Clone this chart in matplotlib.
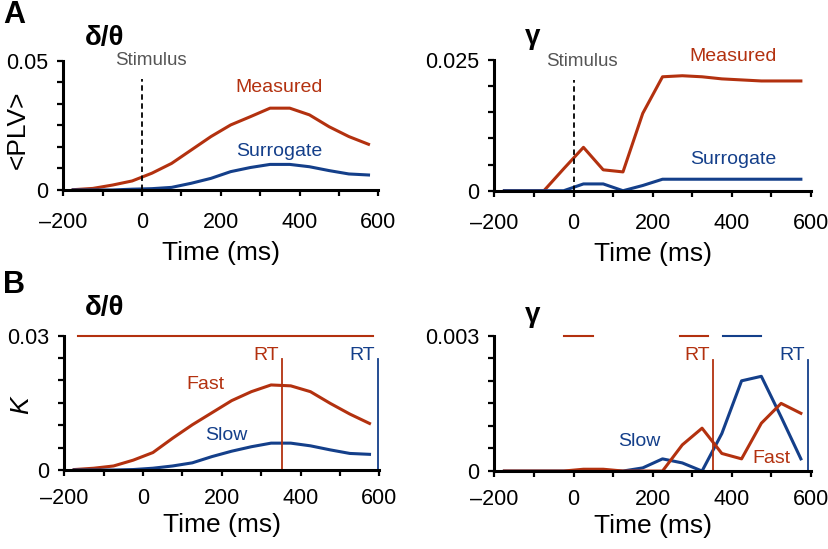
import numpy as np
import matplotlib
matplotlib.use("Agg")
import matplotlib.pyplot as plt

plt.rcParams['font.family'] = ['Liberation Sans', 'DejaVu Sans']

RED = '#b3310f'
BLUE = '#143f8a'

# bin centres (ms)
t = [-175, -125, -75, -25, 25, 75, 125, 175, 225, 275, 325, 375, 425, 475, 525, 575]

# A: phase locking value, delta/theta
a1_measured = [0.0001, 0.0006, 0.0019, 0.0035, 0.0065, 0.0103, 0.0155, 0.0207,
               0.0252, 0.0284, 0.0317, 0.0317, 0.0291, 0.0245, 0.0207, 0.0177]
a1_surrogate = [0, 0, 0, 0.0003, 0.0005, 0.001, 0.0026, 0.0045,
                0.0071, 0.0087, 0.0099, 0.0099, 0.009, 0.0075, 0.0062, 0.0058]
# A: gamma
a2_measured = [0, 0, 0, 0.0042, 0.0083, 0.004, 0.0036, 0.0148,
               0.0218, 0.022, 0.0218, 0.0214, 0.0212, 0.021, 0.021, 0.021]
a2_surrogate = [0, 0, 0, 0, 0.0013, 0.0013, 0, 0.001,
                0.0022, 0.0022, 0.0022, 0.0022, 0.0022, 0.0022, 0.0022, 0.0022]

# B: kappa, delta/theta
b1_fast = [0.0001, 0.0004, 0.0009, 0.0022, 0.0039, 0.0071, 0.0101, 0.0128,
           0.0155, 0.0175, 0.019, 0.0188, 0.0175, 0.0149, 0.0125, 0.0104]
b1_slow = [0, 0, 0, 0.0001, 0.0004, 0.0009, 0.0016, 0.003,
           0.0042, 0.0052, 0.006, 0.006, 0.0054, 0.0045, 0.0037, 0.0035]
# B: gamma
b2_fast = [0, 0, 0, 0, 0.00004, 0.00004, 0, 0,
           0, 0.00058, 0.00095, 0.00039, 0.00027, 0.00106, 0.0015, 0.00128]
b2_slow = [0, 0, 0, 0, 0, 0, 0, 0.00007,
           0.00027, 0.00018, 0, 0.00083, 0.002, 0.0021, 0.0012, 0.00027]

rt_fast = [354, 352]
rt_slow = [596, 593]
# significance bars (start, end, colour)
b1_bars = [(-165, 583, RED)]
b2_bars = [(-25, 50, RED), (270, 340, RED), (377, 475, BLUE)]


def style_axis(ax, ytop, nticks, toplabel, xpad, labelpad):
    ax.set_xlim(-200, 600)
    ax.set_ylim(0, ytop)
    ax.spines['top'].set_visible(False)
    ax.spines['right'].set_visible(False)
    ax.spines['left'].set_linewidth(2.2)
    ax.spines['bottom'].set_linewidth(2.2)
    ax.set_xticks(range(-200, 601, 100))
    ax.set_xticklabels(['\u2013200', '', '0', '', '200', '', '400', '', '600'])
    yt = np.linspace(0, ytop, nticks + 1)
    ax.set_yticks(yt)
    ax.set_yticklabels(['0'] + [''] * (nticks - 1) + [toplabel])
    ax.tick_params(direction='out', length=4, width=1.6, labelsize=15.5)
    ax.tick_params(axis='x', pad=xpad)
    ax.tick_params(axis='y', pad=7)
    ax.set_xlabel('Time (ms)', fontsize=19, labelpad=labelpad)
    ax.patch.set_alpha(0)


fig = plt.figure(figsize=(8.29, 5.49), dpi=100)
axA1 = fig.add_axes([0.0764, 0.654, 0.38, 0.235])
axA2 = fig.add_axes([0.5965, 0.6526, 0.3815, 0.238])
axB1 = fig.add_axes([0.0776, 0.1439, 0.38, 0.2446])
axB2 = fig.add_axes([0.5965, 0.142, 0.3815, 0.2465])

# A left
ax = axA1
ax.plot(t, a1_measured, color=RED, lw=2.2)
ax.plot(t, a1_surrogate, color=BLUE, lw=2.2)
ax.plot([0, 0], [0, 0.043], color='black', lw=1.3, ls=(0, (3, 2)))
ax.text(23, 0.05, 'Stimulus', color='#555555', fontsize=13.5, ha='center', va='center')
ax.text(349, 0.0398, 'Measured', color=RED, fontsize=14, ha='center', va='center')
ax.text(349, 0.0149, 'Surrogate', color=BLUE, fontsize=14, ha='center', va='center')
style_axis(ax, 0.05, 6, '0.05', 12, 5.5)
ax.set_ylabel('<PLV>', fontsize=19)
ax.yaxis.set_label_coords(-0.106, 0.47)

# A right
ax = axA2
ax.plot(t, a2_measured, color=RED, lw=2.2)
ax.plot(t, a2_surrogate, color=BLUE, lw=2.2)
ax.plot([0, 0], [0, 0.0212], color='black', lw=1.3, ls=(0, (3, 2)))
ax.text(21, 0.0247, 'Stimulus', color='#555555', fontsize=13.5, ha='center', va='center')
ax.text(404, 0.0256, 'Measured', color=RED, fontsize=14, ha='center', va='center')
ax.text(404, 0.0059, 'Surrogate', color=BLUE, fontsize=14, ha='center', va='center')
style_axis(ax, 0.025, 5, '0.025', 12, 5.5)

# B left
ax = axB1
ax.plot(t, b1_fast, color=RED, lw=2.2)
ax.plot(t, b1_slow, color=BLUE, lw=2.2)
for x0, x1, c in b1_bars:
    ax.plot([x0, x1], [0.03, 0.03], color=c, lw=1.5, clip_on=False)
ax.plot([rt_fast[0]] * 2, [0, 0.0247], color=RED, lw=1.3)
ax.plot([rt_slow[0]] * 2, [0, 0.0247], color=BLUE, lw=1.3)
ax.text(rt_fast[0] - 8, 0.0255, 'RT', color=RED, fontsize=14, ha='right', va='center')
ax.text(rt_slow[0] - 8, 0.0255, 'RT', color=BLUE, fontsize=14, ha='right', va='center')
ax.text(159, 0.019, 'Fast', color=RED, fontsize=14, ha='center', va='center')
ax.text(212, 0.0078, 'Slow', color=BLUE, fontsize=14, ha='center', va='center')
style_axis(ax, 0.03, 6, '0.03', 9, 3)
ax.set_ylabel('K', fontsize=19, style='italic')
ax.yaxis.set_label_coords(-0.099, 0.48)

# B right
ax = axB2
ax.plot(t, b2_slow, color=BLUE, lw=2.2)
ax.plot(t, b2_fast, color=RED, lw=2.2)
for x0, x1, c in b2_bars:
    ax.plot([x0, x1], [0.003, 0.003], color=c, lw=1.5, clip_on=False)
ax.plot([rt_fast[1]] * 2, [0, 0.00246], color=RED, lw=1.3)
ax.plot([rt_slow[1]] * 2, [0, 0.00246], color=BLUE, lw=1.3)
ax.text(rt_fast[1] - 8, 0.00256, 'RT', color=RED, fontsize=14, ha='right', va='center')
ax.text(rt_slow[1] - 8, 0.00256, 'RT', color=BLUE, fontsize=14, ha='right', va='center')
ax.text(167, 0.00066, 'Slow', color=BLUE, fontsize=14, ha='center', va='center')
ax.text(501, 0.00028, 'Fast', color=RED, fontsize=14, ha='center', va='center')
style_axis(ax, 0.003, 6, '0.003', 9, 3)

# titles and panel letters
fig.text(105 / 829, 1 - 38 / 549, '\u03b4/\u03b8', fontsize=20, fontweight='bold', ha='center', va='center')
fig.text(533 / 829, 1 - 37 / 549, '\u03b3', fontsize=20, fontweight='bold', ha='center', va='center')
fig.text(105 / 829, 1 - 308 / 549, '\u03b4/\u03b8', fontsize=20, fontweight='bold', ha='center', va='center')
fig.text(533 / 829, 1 - 315 / 549, '\u03b3', fontsize=20, fontweight='bold', ha='center', va='center')
fig.text(14 / 829, 1 - 15 / 549, 'A', fontsize=22, fontweight='bold', ha='center', va='center')
fig.text(14 / 829, 1 - 285 / 549, 'B', fontsize=22, fontweight='bold', ha='center', va='center')

fig.savefig('out.png', dpi=100)
